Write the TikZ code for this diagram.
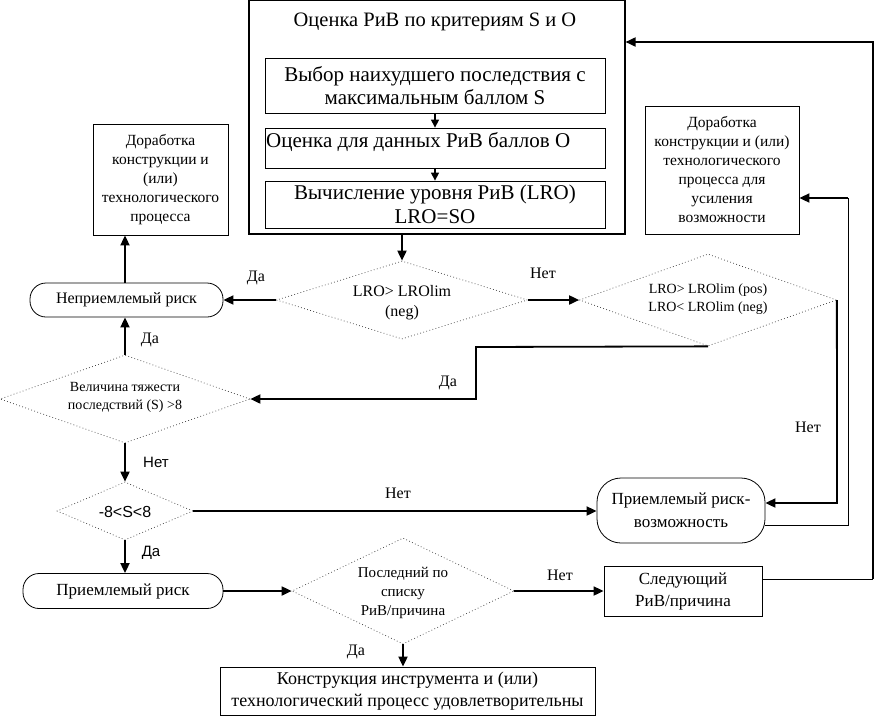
\documentclass[tikz,border=0pt]{standalone}
\usepackage{fontspec}
\setmainfont{Liberation Serif}
\newfontfamily\arialf{Liberation Sans}
\usetikzlibrary{shapes.geometric,arrows.meta,calc}
\begin{document}
\begin{tikzpicture}[x=1pt,y=-1pt,
 box/.style={draw,line width=0.8pt,rectangle,inner sep=0pt,align=center},
 stad/.style={draw,line width=0.8pt,rectangle,rounded corners=16pt,inner sep=0pt,align=center},
 stadb/.style={draw,line width=0.8pt,rectangle,rounded corners=24pt,inner sep=0pt,align=center},
 dia/.style={draw=black!75,shape=diamond,dash pattern=on 0.8pt off 2.4pt,line width=0.7pt,inner sep=0pt},
 conn/.style={line width=1.8pt,-{Triangle[length=10pt,width=9pt]}},
 thin/.style={line width=1pt},
 lbl/.style={font=\fontsize{16}{18}\selectfont,inner sep=0pt},
 big/.style={font=\fontsize{21}{23.5}\selectfont},
 mid/.style={font=\fontsize{16}{19}\selectfont},
 sm/.style={font=\fontsize{14}{18}\selectfont,align=center,inner sep=0pt},
]
\useasboundingbox (0,0) rectangle (877,716);

% top block
\node[box,line width=1.1pt,minimum width=376pt,minimum height=233pt] (outer) at (437,117) {};
\draw[line width=2.5pt] (outer.south west) -- (outer.south east);
\node[inner sep=0pt,font=\fontsize{20.5}{23}\selectfont] (title) at (435,22) {Оценка РиВ по критериям S и O};
\node[box,big,minimum width=340pt,minimum height=55pt] (b1) at (435,85.5) {Выбор наихудшего последствия с\\максимальным баллом S};
\node[box,minimum width=340pt,minimum height=40pt] (b2) at (435,148) {};
\node[big,inner sep=0pt,anchor=west] (b2t) at (266,142) {Оценка для данных РиВ баллов O};
\node[box,big,minimum width=340pt,minimum height=47pt] (b3) at (435,204.5) {Вычисление уровня РиВ (LRO)\\LRO=SO};

% decisions
\node[dia,minimum width=251pt,minimum height=78pt] (d1) at (402,300) {};
\node[sm,font=\fontsize{16}{20}\selectfont] (d1t) at (402,303) {LRO> LROlim\\(neg)};
\node[dia,minimum width=257pt,minimum height=92pt] (d2) at (708,300) {};
\node[sm] (d2t) at (708,299) {LRO> LROlim (pos)\\LRO< LROlim (neg)};
\node[dia,minimum width=250pt,minimum height=88pt] (d3) at (125,399) {};
\node[sm] (d3t) at (125,397) {Величина тяжести\\последствий (S) >8};
\node[dia,minimum width=136pt,minimum height=58pt] (d4) at (125,511) {};
\node[sm,font=\arialf\fontsize{16}{18}\selectfont] (d4t) at (125,512) {-8<S<8};
\node[dia,minimum width=222pt,minimum height=106pt] (d5) at (403,591) {};
\node[sm,font=\fontsize{15}{19}\selectfont] (d5t) at (403,593) {Последний по\\списку\\РиВ/причина};

% terminals and boxes
\node[stad,mid,minimum width=193pt,minimum height=34pt] (nr) at (126.5,300) {Неприемлемый риск};
\node[box,mid,minimum width=135pt,minimum height=111pt,font=\fontsize{15.5}{19}\selectfont] (dl) at (160.5,179.5) {Доработка\\конструкции и\\(или)\\технологического\\процесса};
\node[box,minimum width=154pt,minimum height=128pt,font=\fontsize{15.5}{19}\selectfont] (dr) at (722,170) {Доработка\\конструкции и (или)\\технологического\\процесса для\\усиления\\возможности};
\node[stadb,mid,minimum width=168pt,minimum height=65pt,font=\fontsize{17}{23}\selectfont] (pro) at (681,510.5) {Приемлемый риск-\\возможность};
\node[stad,mid,minimum width=200pt,minimum height=35pt,font=\fontsize{17}{20}\selectfont] (pr) at (123,591) {Приемлемый риск};
\node[box,minimum width=375pt,minimum height=48pt,font=\fontsize{18}{22}\selectfont] (fin) at (407.5,691) {Конструкция инструмента и (или)\\технологический процесс удовлетворительны};
\node[box,minimum width=158pt,minimum height=50pt,font=\fontsize{17}{22}\selectfont] (nxt) at (683,591) {Следующий\\РиВ/причина};

% helper coordinates
\coordinate (c1) at (476,347);
\coordinate (c2) at (837,503);
\coordinate (c3) at (848,525);
\coordinate (c4) at (848,198);
\coordinate (c5) at (873,579);
\coordinate (c6) at (873,42);

% connectors
\draw[conn,line width=1.2pt,-{Triangle[length=8pt,width=8pt]}] (b1.south) -- (b2.north);
\draw[conn,line width=1.2pt,-{Triangle[length=8pt,width=8pt]}] (b2.south) -- (b3.north);
\draw[conn] (d1.north |- outer.south) -- (d1.north);
\draw[conn] (d1.west) -- (nr.east);
\draw[conn] (d1.east) -- (d2.west);
\draw[conn] (d2.south) -- (c1) |- (d3.east);
\draw[conn] (d3.north) -- (d3.north |- nr.south);
\draw[conn] (d3.north |- nr.north) -- (d3.north |- dl.south);
\draw[conn] (d3.south) -- (d4.north);
\draw[conn] (d4.east) -- (d4.east -| pro.west);
\draw[conn] (d2.east) -- (c2) -- (c2 -| pro.east);
\draw[thin] (c3 -| pro.east) -- (c3) -- (c4);
\draw[conn] (c4) -- (c4 -| dr.east);
\draw[conn] (d4.south) -- (d4.south |- pr.north);
\draw[conn] (pr.east) -- (d5.west);
\draw[conn] (d5.south) -- (d5.south |- fin.north);
\draw[conn] (d5.east) -- (nxt.west);
\draw[thin] (c5 -| nxt.east) -- (c5);
\draw[conn] (c5) -- (c6) -- (c6 -| outer.east);

% labels
\node[lbl] (l1) at (256,278) {Да};
\node[lbl] (l2) at (543,273) {Нет};
\node[lbl] (l3) at (150,340) {Да};
\node[lbl] (l4) at (448,383) {Да};
\node[lbl] (l5) at (808,427) {Нет};
\node[lbl,font=\arialf\fontsize{15}{18}\selectfont] (l6) at (156,462) {Нет};
\node[lbl] (l7) at (398,493) {Нет};
\node[lbl,font=\arialf\fontsize{15}{18}\selectfont] (l8) at (151,553) {Да};
\node[lbl] (l9) at (560,575) {Нет};
\node[lbl] (l10) at (356,652) {Да};
\end{tikzpicture}
\end{document}
